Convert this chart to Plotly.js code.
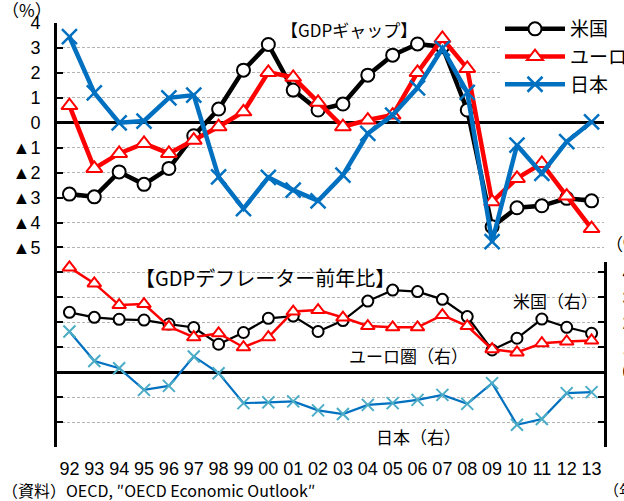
<!DOCTYPE html>
<html><head><meta charset="utf-8">
<script src="https://cdn.plot.ly/plotly-3.0.1.min.js"></script>
<style>html,body{margin:0;padding:0;background:#fff;overflow:hidden}</style>
</head><body>
<div id="chart" style="width:624px;height:501px"></div>
<script>
const years = ['92','93','94','95','96','97','98','99','00','01','02','03','04','05','06','07','08','09','10','11','12','13'];
// GDP gap (%), left axis
const gapUS = [-2.86,-2.97,-1.97,-2.47,-1.83,-0.52,0.55,2.11,3.14,1.31,0.51,0.75,1.91,2.71,3.16,3.05,0.51,-4.17,-3.41,-3.33,-3.03,-3.13];
const gapEU = [0.69,-1.83,-1.23,-0.83,-1.23,-0.70,-0.16,0.44,2.02,1.82,0.82,-0.16,0.11,0.31,2.02,3.38,2.18,-3.17,-2.23,-1.63,-2.94,-4.24];
const gapJP = [3.45,1.20,0.0,0.07,1.0,1.11,-2.17,-3.44,-2.19,-2.70,-3.13,-2.10,-0.43,0.31,1.40,2.98,1.22,-4.77,-0.90,-2.03,-0.76,0.04];
// GDP deflator yoy (%), right axis
const deflUS = [2.40,2.20,2.12,2.09,1.93,1.79,1.12,1.59,2.16,2.25,1.63,2.07,2.85,3.29,3.23,2.92,2.23,0.89,1.36,2.13,1.80,1.56];
const deflEU = [4.2,3.56,2.69,2.73,1.83,1.40,1.56,1.0,1.40,2.43,2.49,2.19,1.85,1.80,1.80,2.29,1.85,0.92,0.79,1.16,1.23,1.27];
const deflJP = [1.63,0.45,0.16,-0.71,-0.55,0.63,-0.04,-1.24,-1.21,-1.17,-1.53,-1.68,-1.31,-1.24,-1.11,-0.91,-1.27,-0.44,-2.11,-1.88,-0.84,-0.80];

const seriesNames = ['米国','ユーロ圏','日本'];
const leftTickVals = [4,3,2,1,0,-1,-2,-3,-4,-5,-6,-7,-8,-9,-10,-11,-12,-13];
const leftTickText = ['4','3','2','1','0','▲1','▲2','▲3','▲4','▲5','','','','','','','',''];
const rightTickVals = [-3,-2,-1,0,1,2,3,4];
const rightTickText = ['▲3','▲2','▲1','0','1','2','3','4'];

const BLACK='#000000', RED='#FF0000', BLUE='#0070C0', TEAL='#4BACC6';
const NUMF = 'Liberation Sans, Arial, sans-serif';
const JPF = 'Noto Sans CJK JP, sans-serif';

// plot area in pixels
const L=57, R=604, T=23, B=447;
const px = x => (x - L)/(R - L);
const py = y => (B - y)/(B - T);

const traces = [
  {x: years, y: gapUS, name: seriesNames[0], legendgroup:'a', type:'scatter', mode:'lines+markers',
   line:{color:BLACK, width:4.5}, marker:{symbol:'circle', size:13, color:'#fff', line:{color:BLACK, width:2}}, cliponaxis:false},
  {x: years, y: gapEU, name: seriesNames[1], legendgroup:'b', type:'scatter', mode:'lines+markers',
   line:{color:RED, width:4.5}, marker:{symbol:'triangle-up', size:14, color:'#fff', line:{color:RED, width:2}}, cliponaxis:false},
  {x: years, y: gapJP, name: seriesNames[2], legendgroup:'c', type:'scatter', mode:'lines+markers',
   line:{color:BLUE, width:4.5}, marker:{symbol:'x-thin', size:15, color:BLUE, line:{color:BLUE, width:2.5}}, cliponaxis:false},
  {x: years, y: deflUS, yaxis:'y2', showlegend:false, type:'scatter', mode:'lines+markers',
   line:{color:BLACK, width:2.2}, marker:{symbol:'circle', size:11, color:'#fff', line:{color:BLACK, width:2}}, cliponaxis:false},
  {x: years, y: deflEU, yaxis:'y2', showlegend:false, type:'scatter', mode:'lines+markers',
   line:{color:RED, width:2.5}, marker:{symbol:'triangle-up', size:12, color:'#fff', line:{color:RED, width:2}}, cliponaxis:false},
  {x: years, y: deflJP, yaxis:'y2', showlegend:false, type:'scatter', mode:'lines+markers',
   line:{color:BLUE, width:2.2}, marker:{symbol:'x-thin', size:12, color:TEAL, line:{color:TEAL, width:2}}, cliponaxis:false}
];

const ann = (text, x, y, size, opts) => Object.assign({
  text, xref:'paper', yref:'paper', x:px(x), y:py(y), showarrow:false,
  font:{family:JPF, size:size, color:'#000'}, xanchor:'center', yanchor:'middle'}, opts||{});

const layout = {
  width:624, height:501,
  margin:{l:L, r:624-R, t:T, b:501-B, pad:0, autoexpand:false},
  paper_bgcolor:'#fff', plot_bgcolor:'rgba(0,0,0,0)',
  showlegend:true,
  legend:{x:px(500), xanchor:'left', y:py(10), yanchor:'top', bgcolor:'#fff', borderwidth:0,
          font:{family:JPF, size:19, color:'#000'}, itemwidth:60, tracegroupgap:3, traceorder:'normal'},
  xaxis:{type:'category', categoryorder:'array', categoryarray:years, range:[-0.5, years.length-0.5],
         showline:false, showgrid:false, zeroline:false, ticks:'', ticklabelstandoff:9,
         tickfont:{family:NUMF, size:18, color:'#000'}},
  xaxis2:{overlaying:'x', anchor:'free', position:py(122.8), type:'linear', range:[-0.5, years.length-0.5],
          tick0:0.5, dtick:1, ticks:'inside', ticklen:6, tickwidth:2, tickcolor:'#000',
          showticklabels:false, showline:false, showgrid:false, zeroline:false},
  yaxis:{range:[-13,4], tickvals:leftTickVals, ticktext:leftTickText, ticks:'inside', ticklen:6, tickwidth:2,
         tickcolor:'#000', showline:true, linewidth:3, linecolor:'#000',
         showgrid:true, gridcolor:'#b4b4b4', gridwidth:1, griddash:'3px,2px',
         zeroline:true, zerolinecolor:'#000', zerolinewidth:3, ticklabelstandoff:10,
         tickfont:{family:NUMF, size:18, color:'#000'}},
  yaxis2:{anchor:'x', side:'right', domain:[0, py(262)], range:[-3, -3 + (B-262)/((B-T)/17)],
          tickvals:rightTickVals, ticktext:rightTickText, ticks:'inside', ticklen:6, tickwidth:2, tickcolor:'#000',
          showline:true, linewidth:3, linecolor:'#000', showgrid:false,
          zeroline:true, zerolinecolor:'#000', zerolinewidth:3, ticklabelstandoff:12,
          tickfont:{family:NUMF, size:18, color:'#000'}},
  yaxis3:{anchor:'x', side:'right', domain:[py(222.6), py(97.9)], range:[-4,1], dtick:1,
          ticks:'inside', ticklen:6, tickwidth:2, tickcolor:'#000', showticklabels:false,
          showline:true, linewidth:3, linecolor:'#000', showgrid:false, zeroline:false},
  annotations:[
    ann('【GDPギャップ】', 349, 30, 17),
    ann('【GDPデフレーター前年比】', 265, 277, 20),
    ann('米国（右）', 555, 300, 17),
    ann('ユーロ圏（右）', 408, 355, 17),
    ann('日本（右）', 418, 436, 17),
    ann('（%）', 0, 9, 17, {xanchor:'left'}),
    ann('（%', 604, 243, 17, {xanchor:'left'}),
    ann('（年）', 602, 489, 15, {xanchor:'left'}),
    ann('（資料）OECD, ″OECD Economic Outlook″', 0, 490, 16, {xanchor:'left'})
  ]
};

Plotly.newPlot('chart', traces, layout, {displayModeBar:false, staticPlot:true});
</script>
</body></html>
